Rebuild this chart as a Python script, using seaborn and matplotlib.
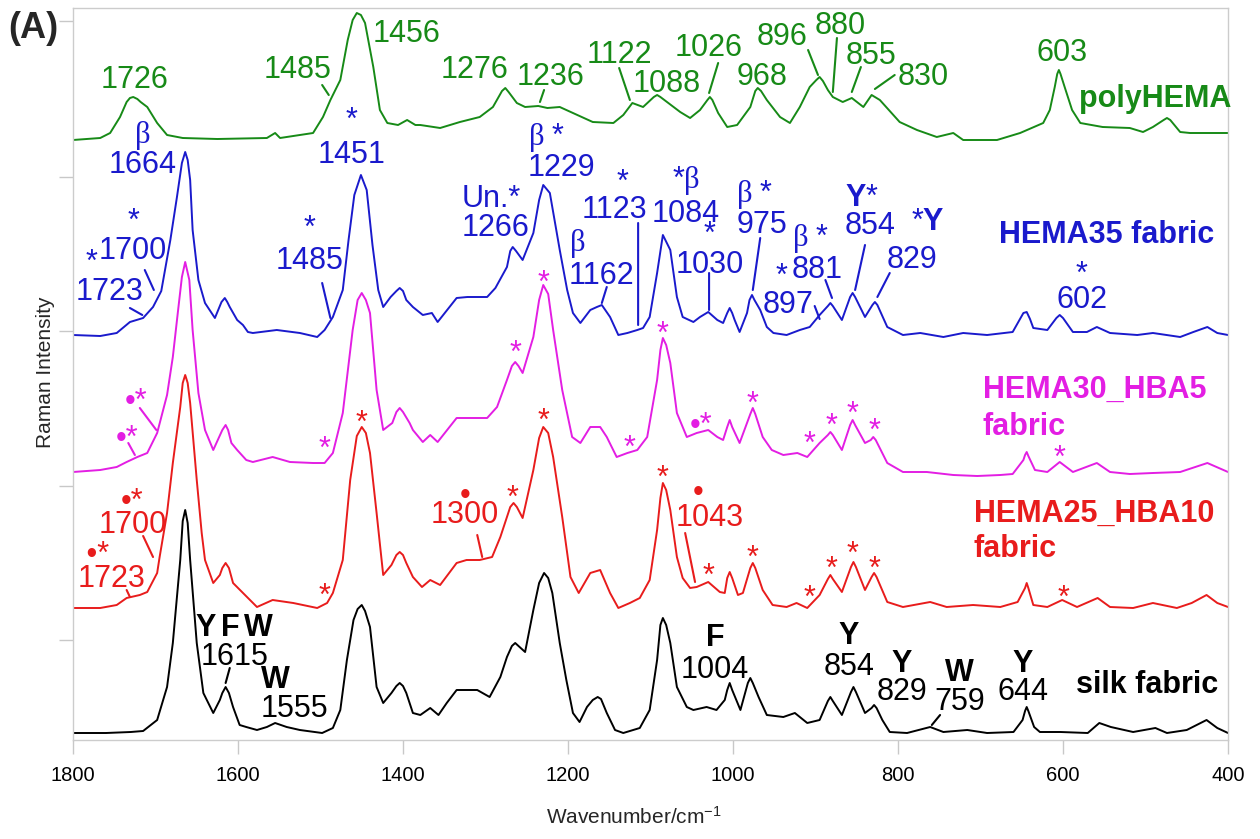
import numpy as np
import pandas as pd
import matplotlib
matplotlib.use("Agg")
import matplotlib.pyplot as plt
import seaborn as sns

# ---------------- data (wavenumber, intensity above own baseline) ----------------
silk = [(1800,0),(1760,0),(1730,1),(1715,2),(1698,13),(1686,46),(1679,90),(1670,173),(1667,212),(1664,223),(1661,210),(1658,173),(1650,90),(1642,40),(1630,20),(1622,33),(1619,40),(1615,46),(1611,40),(1606,26),(1598,8),(1590,6),(1577,3),(1565,6),(1555,10),(1541,6),(1525,3),(1498,0),(1485,5),(1476,23),(1468,73),(1460,113),(1455,124),(1450,128),(1446,122),(1440,106),(1432,46),(1424,30),(1414,40),(1408,47),(1404,50),(1400,47),(1396,40),(1388,20),(1379,18),(1367,25),(1357,18),(1347,30),(1335,43),(1323,43),(1310,43),(1295,36),(1282,56),(1274,76),(1268,87),(1264,90),(1260,87),(1252,81),(1242,123),(1235,150),(1229,160),(1224,155),(1219,140),(1210,90),(1202,53),(1194,20),(1186,11),(1177,26),(1170,33),(1164,36),(1160,34),(1153,20),(1143,3),(1133,0),(1113,5),(1101,23),(1092,73),(1088,108),(1085,115),(1081,108),(1076,90),(1068,46),(1056,26),(1048,23),(1032,26),(1020,23),(1010,33),(1007,43),(1004,50),(1001,43),(991,23),(982,50),(979,55),(976,50),(969,36),(959,18),(939,16),(925,20),(910,10),(895,13),(885,32),(882,36),(879,32),(868,18),(857,41),(854,46),(851,41),(840,20),(832,25),(829,28),(826,25),(819,13),(810,1),(789,0),(761,6),(745,1),(716,3),(692,0),(660,1),(649,13),(646,22),(644,26),(642,22),(635,6),(628,1),(603,1),(570,0),(556,10),(542,6),(515,1),(488,5),(474,0),(450,3),(426,13),(413,5),(400,0)]

hema25_hba10 = [(1800,0),(1767,0),(1747,3),(1735,10),(1719,13),(1710,16),(1698,35),(1695,51),(1686,95),(1679,145),(1670,201),(1667,225),(1664,233),(1661,225),(1658,205),(1650,128),(1644,75),(1640,48),(1630,25),(1622,33),(1619,40),(1615,45),(1611,40),(1606,25),(1589,11),(1577,1),(1558,8),(1533,5),(1504,0),(1492,5),(1485,15),(1473,48),(1464,128),(1456,172),(1450,181),(1445,175),(1440,155),(1432,95),(1424,33),(1414,43),(1408,53),(1404,56),(1400,53),(1396,45),(1388,31),(1377,21),(1367,28),(1355,23),(1335,45),(1323,48),(1307,48),(1292,51),(1282,71),(1270,101),(1266,105),(1262,101),(1255,90),(1242,138),(1235,170),(1230,181),(1224,175),(1218,151),(1207,91),(1197,31),(1187,15),(1173,35),(1161,38),(1149,15),(1139,0),(1125,5),(1113,10),(1101,28),(1092,78),(1088,110),(1085,125),(1081,118),(1076,98),(1068,51),(1061,30),(1052,20),(1044,21),(1030,26),(1016,16),(1010,15),(1007,30),(1004,36),(1001,30),(994,13),(988,15),(979,40),(976,45),(973,40),(964,18),(952,3),(935,1),(923,5),(910,0),(895,13),(885,29),(882,33),(879,29),(868,16),(857,41),(854,46),(851,41),(840,18),(832,31),(829,35),(826,31),(813,6),(794,1),(761,6),(741,1),(709,3),(676,1),(655,6),(646,20),(644,25),(642,20),(636,3),(619,1),(601,8),(583,1),(558,10),(543,1),(515,0),(491,5),(462,0),(444,5),(426,13),(413,5),(400,1)]

hema30_hba5 = [(1800,0),(1767,2),(1747,5),(1735,10),(1722,15),(1710,19),(1698,39),(1686,77),(1679,115),(1673,159),(1668,195),(1664,210),(1659,192),(1655,142),(1648,79),(1640,42),(1630,22),(1619,42),(1615,47),(1612,42),(1608,29),(1601,22),(1590,12),(1582,10),(1558,15),(1537,10),(1509,9),(1495,9),(1485,19),(1473,59),(1461,142),(1455,172),(1450,179),(1445,172),(1440,159),(1432,82),(1424,42),(1413,49),(1408,60),(1404,64),(1400,60),(1392,49),(1388,42),(1376,30),(1367,37),(1358,30),(1335,54),(1319,54),(1298,54),(1286,65),(1274,92),(1268,106),(1264,110),(1260,106),(1255,99),(1242,135),(1235,172),(1230,187),(1224,178),(1218,142),(1207,82),(1195,35),(1185,29),(1173,45),(1161,45),(1153,35),(1141,15),(1128,19),(1116,22),(1104,35),(1092,92),(1088,122),(1085,134),(1081,127),(1076,109),(1068,59),(1056,35),(1044,39),(1030,42),(1019,35),(1012,32),(1007,45),(1004,52),(1001,45),(992,29),(979,58),(976,64),(973,58),(964,35),(953,22),(939,17),(922,19),(910,15),(895,29),(885,37),(882,40),(879,37),(868,22),(858,47),(855,52),(852,47),(840,29),(833,32),(830,35),(827,32),(813,9),(794,0),(765,0),(733,-3),(704,-4),(676,-3),(661,-2),(648,12),(646,17),(644,20),(642,16),(634,2),(619,0),(604,10),(588,0),(559,9),(543,0),(519,-2),(491,-1),(458,0),(425,9),(400,0)]

hema35 = [(1800,0),(1767,-1),(1747,2),(1731,13),(1715,17),(1703,28),(1693,44),(1682,95),(1674,138),(1668,172),(1664,183),(1661,175),(1658,155),(1655,105),(1648,55),(1640,32),(1628,17),(1620,33),(1616,37),(1613,33),(1610,28),(1601,15),(1594,10),(1588,3),(1582,2),(1553,5),(1525,2),(1504,-2),(1495,5),(1485,18),(1473,45),(1466,95),(1459,140),(1451,160),(1444,145),(1437,90),(1430,45),(1424,28),(1415,38),(1408,44),(1404,47),(1400,44),(1396,35),(1388,28),(1376,20),(1365,22),(1358,13),(1335,37),(1322,38),(1298,38),(1288,47),(1274,68),(1270,84),(1267,88),(1263,84),(1255,75),(1242,102),(1235,135),(1230,150),(1222,142),(1210,85),(1201,45),(1194,22),(1185,12),(1173,25),(1165,28),(1159,30),(1149,18),(1139,0),(1128,2),(1116,5),(1109,7),(1101,18),(1092,62),(1085,100),(1076,85),(1068,38),(1061,18),(1048,13),(1040,18),(1030,23),(1019,15),(1012,12),(1007,22),(1004,27),(1001,22),(998,15),(992,3),(983,22),(980,35),(977,40),(974,35),(967,25),(959,8),(951,2),(935,0),(919,5),(907,8),(895,20),(885,29),(882,32),(879,29),(868,15),(858,38),(855,42),(852,38),(840,18),(831,30),(828,33),(825,30),(813,8),(794,0),(773,2),(745,-2),(721,2),(692,0),(661,3),(648,22),(644,23),(640,16),(636,7),(619,5),(608,17),(604,20),(600,17),(588,3),(571,3),(559,8),(543,2),(510,0),(491,2),(458,-2),(442,3),(425,8),(413,2),(400,0)]

polyhema = [(1800,0),(1767,2),(1755,7),(1743,23),(1735,38),(1731,42),(1727,43),(1722,41),(1718,38),(1710,33),(1698,17),(1686,5),(1667,2),(1625,1),(1565,2),(1555,7),(1549,2),(1509,7),(1497,23),(1488,40),(1476,60),(1467,100),(1461,120),(1456,127),(1451,125),(1446,117),(1436,73),(1428,30),(1419,17),(1406,15),(1395,20),(1385,15),(1379,15),(1355,12),(1331,18),(1307,23),(1291,33),(1280,49),(1276,52),(1272,48),(1262,37),(1252,33),(1236,34),(1225,32),(1210,33),(1194,27),(1170,18),(1145,17),(1133,25),(1122,37),(1109,33),(1096,43),(1092,45),(1088,43),(1080,38),(1064,28),(1052,22),(1040,30),(1031,40),(1028,43),(1025,40),(1018,27),(1007,13),(995,15),(979,33),(973,49),(970,52),(966,49),(959,40),(943,23),(931,17),(919,33),(907,53),(899,60),(895,63),(891,59),(885,50),(879,43),(867,38),(856,42),(842,33),(832,45),(822,40),(798,18),(777,10),(753,3),(733,7),(721,0),(680,0),(652,7),(624,17),(616,30),(610,53),(607,66),(605,70),(603,66),(598,53),(589,30),(579,17),(552,13),(519,12),(503,8),(491,13),(478,20),(474,22),(470,20),(458,8),(446,7),(425,7),(400,7)]

samples = ["silk fabric", "HEMA25_HBA10 fabric", "HEMA30_HBA5 fabric", "HEMA35 fabric", "polyHEMA"]
spectra = [silk, hema25_hba10, hema30_hba5, hema35, polyhema]
offsets = [7, 132, 268, 405, 600]
colors = ["#000000", "#e81c1c", "#e31ee3", "#1a1acc", "#178a17"]
x_ticks = [1800, 1600, 1400, 1200, 1000, 800, 600, 400]

# ---------------- figure ----------------
sns.set_style("white")
plt.rcParams["font.family"] = ["Liberation Sans", "DejaVu Sans"]
plt.rcParams["mathtext.fontset"] = "custom"
plt.rcParams["mathtext.rm"] = "Liberation Serif"
plt.rcParams["mathtext.bf"] = "Liberation Sans:bold"
plt.rcParams["mathtext.sf"] = "Liberation Sans"
plt.rcParams["mathtext.default"] = "regular"

rows = []
for nm, spec, off in zip(samples, spectra, offsets):
    for wn, val in spec:
        rows.append({"wn": wn, "val": val + off, "sample": nm})
df = pd.DataFrame(rows)

fig = plt.figure(figsize=(12.6, 8.39), dpi=100)
ax = fig.add_axes([73 / 1260, 1 - 740 / 839, (1228 - 73) / 1260, (740 - 8) / 839])

sns.lineplot(data=df, x="wn", y="val", hue="sample", palette=dict(zip(samples, colors)),
             sort=False, estimator=None, legend=False, ax=ax, linewidth=1.4)
for ln in ax.get_lines():
    ln.set_solid_joinstyle("round")

ax.set_xlim(1800, 400)
ax.set_ylim(0, 732)
ax.set_xticks(x_ticks)
ax.set_xticklabels([str(t) for t in x_ticks])
ax.set_yticks([100, 254, 409, 563, 719])
ax.set_yticklabels([])
ax.tick_params(axis="both", which="major", direction="out", length=10, width=1,
               color="#c8c8c8", labelsize=14.5, pad=9, bottom=True, left=True,
               labelcolor="black")
for s in ax.spines.values():
    s.set_color("#cccccc")
    s.set_linewidth(1)
ax.set_xlabel("")
ax.set_ylabel("")
fig.text(634 / 1260, 1 - 817 / 839, "Wavenumber/cm$^{-1}$", fontsize=15, ha="center", va="center")
fig.text(46 / 1260, 1 - 372 / 839, "Raman Intensity", fontsize=15, rotation=90, ha="center", va="center")

FS = 22
EM = FS * 100 / 72
CH = {"num": 0.358, "star": 0.5, "beta": 0.24, "dot": 0.36}


def label(wn, yc, lines, color, top="num", D=0, ma="center"):
    """yc: visual centre of the last line (data units = pixels)."""
    if isinstance(lines, str):
        lines = [lines]
    if len(lines) == 1:
        bottom = yc - CH[top] * EM - 0.21 * EM
        ls = 1.2
    else:
        pitch = D + CH[top] * EM - 0.358 * EM
        ls = (pitch - 0.21 * EM) / (0.716 * EM)
        bottom = yc - 0.358 * EM - 0.21 * EM
    ax.text(wn, bottom, "\n".join(lines), color=color, fontsize=FS, ha="center", va="bottom",
            multialignment=ma, linespacing=ls)


def lead(w1, y1, w2, y2, color):
    ax.annotate("", xy=(w2, y2), xytext=(w1, y1),
                arrowprops=dict(arrowstyle="-", color=color, lw=1.5, shrinkA=0, shrinkB=0))


def name(wn, yb, s, color, ha="center"):
    ax.text(wn, yb, s, color=color, fontsize=FS, fontweight="bold", ha=ha, va="baseline")


K, R, M, B, G = colors
BETA = r"$\mathrm{\beta}$"

# polyHEMA
for wn, y, s in [(1725, 662, "1726"), (1528, 672, "1485"), (1396, 708, "1456"), (1313, 672, "1276"),
                 (1221, 665, "1236"), (1138, 687, "1122"), (1080, 658, "1088"), (1029, 694, "1026"),
                 (965, 665, "968"), (941, 705, "896"), (870, 716, "880"), (833, 686, "855"),
                 (769, 665, "830"), (601, 689, "603")]:
    label(wn, y, s, G)
for seg in [(1498, 655, 1490, 645), (1229, 650, 1234, 638), (1138, 672, 1125, 640),
            (1018, 677, 1029, 647), (909, 690, 897, 665), (874, 702, 879, 648),
            (845, 673, 856, 648), (804, 665, 828, 651)]:
    lead(*seg, G)
name(488, 633, "polyHEMA", G)

# HEMA35 fabric
blue_groups = [
    (1716, 577, [BETA, "1664"], "beta", 30, "center"),
    (1462, 587, ["*", "1451"], "star", 28, "center"),
    (1727, 491, ["*", "1700"], "star", 23, "center"),
    (1513, 481, ["*", "1485"], "star", 26, "center"),
    (1208, 574, [BETA + " *", "1229"], "star", 23, "left"),
    (1288, 514, ["Un.*", "1266"], "num", 28, "left"),
    (1159, 466, [BETA, "1162"], "beta", 33, "left"),
    (1144, 532, ["  *", "1123"], "star", 21, "center"),
    (1057, 528, ["*" + BETA, "1084"], "star", 26, "center"),
    (1028, 477, ["*", "1030"], "star", 24, "center"),
    (965, 517, [BETA + " *", "975"], "star", 23, "left"),
    (898, 472, [BETA + " *", "881"], "star", 24, "left"),
    (834, 516, [r"$\mathbf{Y}$*", "854"], "num", 27, "left"),
    (577, 442, ["*", "602"], "star", 20, "center"),
]
for wn, y, lines, top, D, ma in blue_groups:
    label(wn, y, lines, B, top, D, ma)
label(1777, 484, "*", B, "star")
label(1756, 450, "1723", B, "num")
label(941, 470, "*", B, "star")
label(933, 437, "897", B, "num")
label(764, 520, r"*$\mathbf{Y}$", B, "num")
label(783, 482, "829", B, "num")
for seg in [(1713, 470, 1702, 450), (1731, 432, 1716, 425), (1498, 457, 1488, 422),
            (1153, 453, 1159, 437), (1115, 517, 1115, 415), (1029, 467, 1029, 430),
            (967, 502, 976, 450), (901, 434, 895, 421), (888, 460, 880, 442),
            (840, 495, 852, 450), (810, 467, 825, 443)]:
    lead(*seg, B)
name(547, 497, "HEMA35 fabric", B)

# HEMA30_HBA5 fabric
for wn, y, s, k in [(1723, 340, "•*", "dot"), (1735, 303, "•*", "dot"), (1039, 316, "•*", "dot"),
                    (1495, 297, "*", "star"), (1264, 393, "*", "star"), (1230, 463, "*", "star"),
                    (1126, 298, "*", "star"), (1085, 412, "*", "star"), (976, 342, "*", "star"),
                    (907, 302, "*", "star"), (881, 320, "*", "star"), (855, 332, "*", "star"),
                    (828, 315, "*", "star"), (604, 288, "*", "star")]:
    label(wn, y, s, M, k)
lead(1719, 332, 1699, 310, M)
lead(1733, 297, 1725, 285, M)
name(697, 342, "HEMA30_HBA5", M, ha="left")
name(697, 305, "fabric", M, ha="left")

# HEMA25_HBA10 fabric
red_groups = [
    (1728, 217, ["•*", "1700"], "dot", 22, "center"),
    (1753, 163, [" •*", "1723"], "dot", 23, "left"),
    (1325, 227, ["•", "1300"], "dot", 18, "center"),
    (1028, 224, ["  •", "1043"], "dot", 24, "left"),
]
for wn, y, lines, top, D, ma in red_groups:
    label(wn, y, lines, R, top, D, ma)
for wn, y in [(1495, 150), (1450, 323), (1267, 248), (1230, 325), (1085, 268), (1030, 170),
              (976, 188), (907, 148), (880, 177), (855, 192), (828, 177), (600, 148)]:
    label(wn, y, "*", R, "star")
for seg in [(1715, 204, 1703, 183), (1735, 150, 1731, 143), (1310, 205, 1304, 183),
            (1058, 207, 1046, 158)]:
    lead(*seg, R)
name(708, 218, "HEMA25_HBA10", R, ha="left")
name(708, 183, "fabric", R, ha="left")

# silk fabric
silk_groups = [
    (1604, 85, [r"$\mathbf{Y\,F\,W}$", "1615"], 28, "center"),
    (1532, 33, [r"$\mathbf{W}$", "1555"], 28, "left"),
    (1022, 72, [r"$\mathbf{F}$", "1004"], 31, "center"),
    (859, 75, [r"$\mathbf{Y}$", "854"], 30, "center"),
    (795, 50, [r"$\mathbf{Y}$", "829"], 27, "center"),
    (725, 40, [r"$\mathbf{W}$", "759"], 28, "center"),
    (648, 50, [r"$\mathbf{Y}$", "644"], 27, "center"),
]
for wn, y, lines, D, ma in silk_groups:
    label(wn, y, lines, K, "num", D, ma)
lead(1610, 72, 1615, 57, K)
lead(749, 25, 759, 15, K)
name(498, 47, "silk fabric", K)

fig.text(33 / 1260, 1 - 29 / 839, "(A)", fontsize=26, fontweight="bold", ha="center", va="center")

fig.savefig("out.png", dpi=100)
